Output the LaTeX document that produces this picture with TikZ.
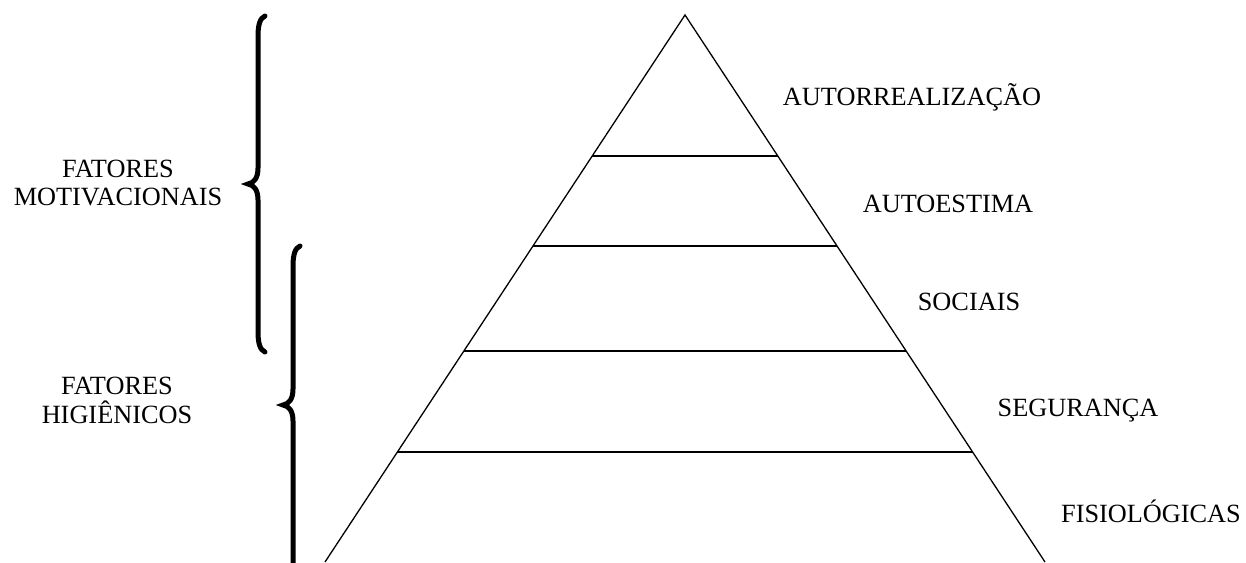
\documentclass[tikz,border=0pt]{standalone}
\usepackage{fontspec}
\setmainfont{Liberation Serif}
\usetikzlibrary{calc}
\begin{document}
\begin{tikzpicture}[x=1pt,y=-1pt,
  lbl/.style={anchor=base,inner sep=0pt,font=\fontsize{26.3}{30}\selectfont},
  side/.style={line width=1.3pt,line join=miter},
  level/.style={line width=1.7pt},
  brace/.style={line width=5pt,line cap=round}]
\useasboundingbox (0,0) rectangle (1246,562);
% pyramid corners
\coordinate (apex) at (685,15);
\coordinate (baseL) at (325,562);
\coordinate (baseR) at (1045,562);
\draw[side] (baseL) -- (apex) -- (baseR);
% level lines (on the sides)
\foreach \n/\y in {lvA/156,lvB/246,lvC/351,lvD/452}{
  \coordinate (\n L) at ($(apex)!{(\y-15)/547}!(baseL)$);
  \coordinate (\n R) at ($(apex)!{(\y-15)/547}!(baseR)$);
}
\draw[level] (lvAL) -- (lvAR);
\draw[level] (lvBL) -- (lvBR);
\draw[level] (lvCL) -- (lvCR);
\draw[level] (lvDL) -- (lvDR);
% level labels
\node[lbl] (auto) at (912,105) {AUTORREALIZAÇÃO};
\node[lbl] (estima) at (948,212) {AUTOESTIMA};
\node[lbl] (sociais) at (969,310) {SOCIAIS};
\node[lbl] (seg) at (1078,416) {SEGURANÇA};
\node[lbl] (fisio) at (1151,522) {FISIOLÓGICAS};
% group labels
\node[lbl] (motA) at (118,177) {FATORES};
\node[lbl] (motB) at (118,205) {MOTIVACIONAIS};
\node[lbl] (higA) at (117,394) {FATORES};
\node[lbl] (higB) at (117,423) {HIGIÊNICOS};
% braces
\draw[brace] (265,16) .. controls (260,18) and (258,25) .. (258,36)
  -- (258,168) .. controls (258,178) and (254,183) .. (248,184)
  .. controls (254,185) and (258,190) .. (258,200)
  -- (258,332) .. controls (258,343) and (260,350) .. (265,352);
\draw[brace] (300,246) .. controls (295,248) and (293,255) .. (293,266)
  -- (293,389) .. controls (293,399) and (289,404) .. (283,405)
  .. controls (289,406) and (293,411) .. (293,421)
  -- (293,570);
\end{tikzpicture}
\end{document}
